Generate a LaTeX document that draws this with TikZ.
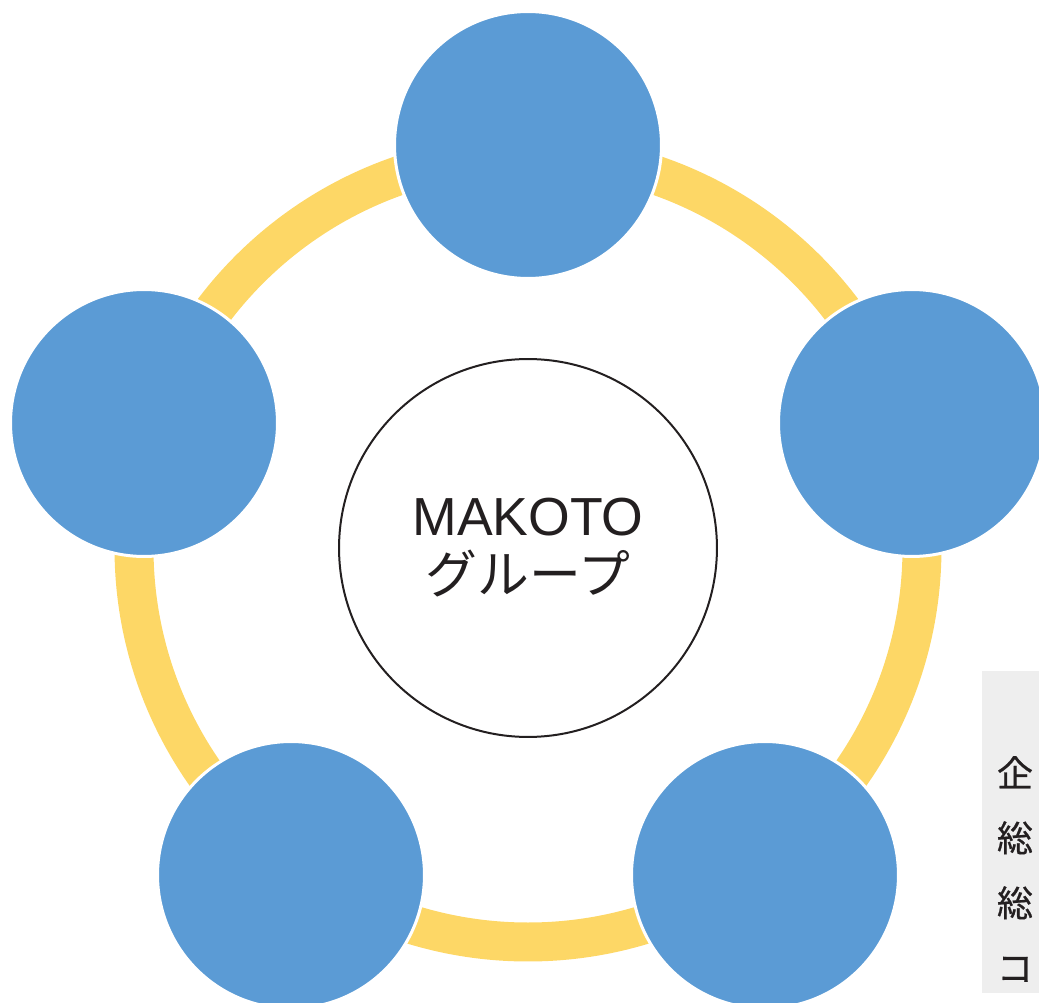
\documentclass[tikz,border=0pt]{standalone}
\usepackage{fontspec}
\setmainfont{Liberation Sans}
\newfontfamily\jpfont{Noto Sans CJK JP}
\newfontfamily\tabfont[FakeBold=0.6]{Noto Sans CJK JP}
\usetikzlibrary{positioning}
\definecolor{ringyellow}{HTML}{FDD766}
\definecolor{memberblue}{HTML}{5B9BD5}
\definecolor{inkgray}{HTML}{231F20}
\definecolor{tabgray}{HTML}{EEEEEE}

\begin{document}
\begin{tikzpicture}[x=0.02cm,y=-0.02cm,
    member/.style={circle,fill=memberblue,draw=white,line width=0.06cm,
      minimum size=5.34cm,inner sep=0pt},
    hubnode/.style={circle,draw=inkgray,line width=0.04cm,minimum size=7.56cm,
      inner sep=0pt,align=center,text=inkgray,font=\fontsize{30.5}{33}\selectfont}]
    \useasboundingbox (0,0) rectangle (1039,1003);
    \coordinate (c) at (528,548);

    % ring behind the members
    \draw[ringyellow,line width=0.78cm] (c) circle [radius=394];

    \node[member] (top) at (528,145) {};
    \node[member] (left) at (144,423) {};
    \node[member] (right) at (912,423) {};
    \node[member] (botleft) at (291,875) {};
    \node[member] (botright) at (765,875) {};

    \node[hubnode] (hub) at (c) {MAKOTO\\{\jpfont\fontsize{29.5}{33}\selectfont グループ}};

    % side tab
    \fill[tabgray] (982,671) rectangle (1039,993);
    \node[align=center,text=inkgray,font=\tabfont\fontsize{20.5}{37}\selectfont]
      (side) at (1015,869) {企\\総\\総\\コ};
  \end{tikzpicture}
\end{document}
